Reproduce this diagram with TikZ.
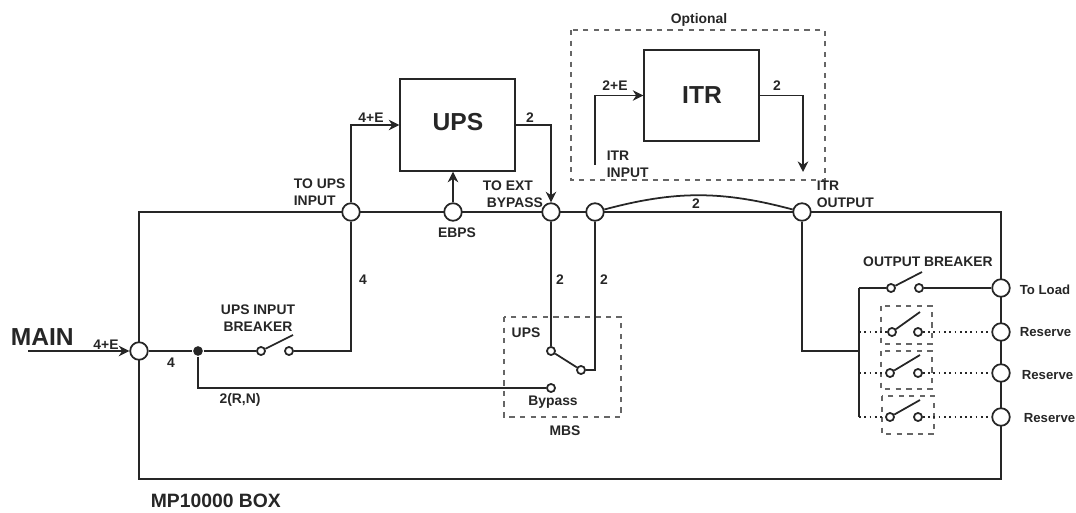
\documentclass[tikz,border=0pt]{standalone}
\usepackage{fontspec}
\setmainfont{Liberation Sans}
\usetikzlibrary{arrows.meta}
\begin{document}
\begin{tikzpicture}[x=.02cm,y=-.02cm,line width=1pt,color=black!85,
  bus/.style={draw,circle,fill=white,inner sep=0pt,minimum size=10pt},
  contact/.style={draw,circle,fill=white,inner sep=0pt,minimum size=4.6pt},
  unit/.style={draw,inner sep=0pt},
  optbox/.style={draw=black!60,dashed,line width=.6pt},
  res/.style={dotted},
  arr/.style={-{Stealth[length=6pt,width=6pt]}},
  lbl/.style={font=\bfseries\fontsize{7.9}{9}\selectfont,inner sep=0pt,align=center},
  lbll/.style={lbl,align=left,anchor=west},
  lblout/.style={lbll,font=\bfseries\fontsize{7.5}{9}\selectfont},
  big/.style={font=\bfseries\fontsize{14}{16}\selectfont,inner sep=0pt}]
\useasboundingbox (0,0) rectangle (1076,513);

\draw (139,212) rectangle (1001,479);
\draw [optbox] (571,30) rectangle (825,180);
\draw [optbox] (504,317) rectangle (621,417);
\draw [optbox] (881,306) rectangle (932,344);
\draw [optbox] (881,351) rectangle (932,389);
\draw [optbox] (882,396) rectangle (934,434);

\node [unit,minimum width=65.2pt,minimum height=52.2pt] (ups) at (457.5,125) {};
\node [unit,minimum width=65.2pt,minimum height=51.6pt] (itr) at (701.5,95.5) {};
\node [big] at (458,122) {UPS};
\node [big] at (702,95) {ITR};

\node [bus] (toups) at (351,212) {};
\node [bus] (ebps) at (453,212) {};
\node [bus] (toext) at (551,212) {};
\node [bus] (itrin) at (595,212) {};
\node [bus] (itrout) at (802,212) {};
\node [bus] (main) at (139,351) {};
\node [bus] (load) at (1001,288) {};
\node [bus] (resa) at (1001,332) {};
\node [bus] (resb) at (1001,373) {};
\node [bus] (resc) at (1001,417) {};

\node [contact] (upsa) at (261,351) {};
\node [contact] (upsb) at (289,351) {};
\node [contact] (mbsa) at (551,351) {};
\node [contact] (mbsb) at (581,370) {};
\node [contact] (mbsc) at (551,388) {};
\node [contact] (outa) at (891,288) {};
\node [contact] (outb) at (919,288) {};
\node [contact] (resaa) at (892,332) {};
\node [contact] (resab) at (918,332) {};
\node [contact] (resba) at (890,373) {};
\node [contact] (resbb) at (918,373) {};
\node [contact] (resca) at (890,417) {};
\node [contact] (rescb) at (918,417) {};

\node [circle,fill,inner sep=0pt,minimum size=5.5pt] (dot) at (198,351) {};
\coordinate (mainin) at (28,351);
\coordinate (itrstart) at (595,165);
\coordinate (itrend) at (803,172);
\coordinate (upsturn) at (351,351);
\coordinate (busjoin) at (859,351);
\coordinate (bustop) at (859,288);
\coordinate (busa) at (859,332);
\coordinate (busb) at (859,373);
\coordinate (busc) at (859,417);
\coordinate (mbsturn) at (595,370);
\coordinate (branch) at (198,388);

\draw [arr] (toups) |- (ups);
\draw [arr] (ups.east) -| (toext);
\draw [arr] (ebps) -- (ebps |- ups.south);
\draw [arr] (itrstart) |- (itr);
\draw [arr] (itr.east) -| (itrend);
\draw (itrin) to [bend left=15] (itrout);

\draw [arr] (mainin) -- (main);
\draw (main) -- (dot) -- (upsa);
\draw (upsa) -- (293,335);
\draw (upsb) -- (upsturn) -- (toups);
\draw (dot) -- (branch) -- (mbsc);

\draw (toext) -- (mbsa) -- (mbsb) -- (mbsturn) -- (itrin);

\draw (itrout) |- (busjoin);
\draw (bustop) -- (busc);
\draw (bustop) -- (outa) -- (922,272);
\draw (outb) -- (load);
\draw [res] (busa) -- (resaa);
\draw (resaa) -- (920,312);
\draw [res] (resab) -- (resa);
\draw [res] (busb) -- (resba);
\draw (resba) -- (920,355);
\draw [res] (resbb) -- (resb);
\draw [res] (busc) -- (resca);
\draw (resca) -- (920,400);
\draw [res] (rescb) -- (resc);

\node [lbl] at (699,20) {Optional};
\node [lbl] at (615,86) {2+E};
\node [lbl] at (777,86) {2};
\node [lbll] at (606,164) {ITR\\[.8pt]INPUT};
\node [lbl] at (371,118) {4+E};
\node [lbl] at (530,118) {2};
\node [lbll] at (293,192) {TO UPS\\[.8pt]INPUT};
\node [lbll] at (482,194) {TO EXT\\[.8pt]\hspace{2.3pt}BYPASS};
\node [lbl] at (457,233) {EBPS};
\node [lbl] at (696,204) {2};
\node [lbll] at (816,194) {ITR\\[.8pt]OUTPUT};
\node [lbl] at (363,280) {4};
\node [lbl] at (560,280) {2};
\node [lbl] at (604,280) {2};
\node [lbl] at (928,262) {OUTPUT BREAKER};
\node [lblout] at (1019,290) {To Load};
\node [lblout] at (1019,332) {Reserve};
\node [lblout] at (1021,375) {Reserve};
\node [lblout] at (1023,418) {Reserve};
\node [lbl] at (258,318) {UPS INPUT\\[.8pt]BREAKER};
\node [lbl] at (106,345) {4+E};
\node [lbl] at (171,363) {4};
\node [lbl] at (240,400) {2(R,N)};
\node [lbl] at (526,333) {UPS};
\node [lbl] at (553,402) {Bypass};
\node [lbl] at (565,431) {MBS};
\node [font=\bfseries\fontsize{14}{16}\selectfont,inner sep=0pt,anchor=west] at (10,337) {MAIN};
\node [font=\bfseries\fontsize{11}{13}\selectfont,inner sep=0pt,anchor=west] at (150,501) {MP10000 BOX};
\end{tikzpicture}
\end{document}
